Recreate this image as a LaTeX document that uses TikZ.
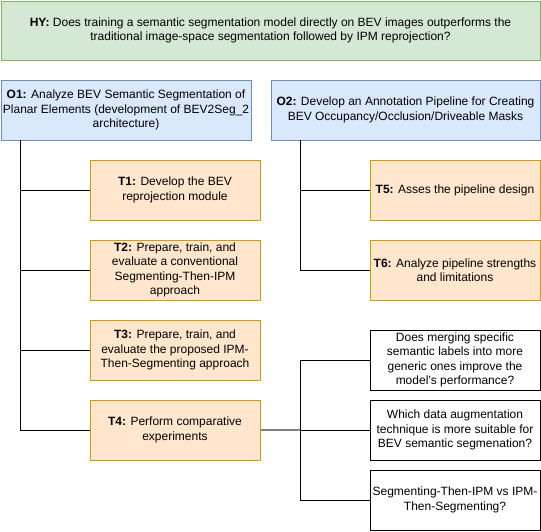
\documentclass[tikz,border=0pt]{standalone}
\usepackage{fontspec}
\setmainfont{Liberation Sans}
\usepackage{tikz}
\usetikzlibrary{positioning}
\definecolor{hyfill}{HTML}{D5E8D4}
\definecolor{hyline}{HTML}{82B366}
\definecolor{objfill}{HTML}{DAE8FC}
\definecolor{objline}{HTML}{6C8EBF}
\definecolor{taskfill}{HTML}{FFE6CC}
\definecolor{taskline}{HTML}{D79B00}
\tikzstyle{HYbox}   = [draw=hyline, fill=hyfill, line width=1pt, minimum width=539pt, minimum height=59pt, align=center]
\tikzstyle{OBJbox}  = [draw=objline, fill=objfill, line width=1pt, minimum height=60pt, align=center]
\tikzstyle{TASKbox} = [draw=taskline, fill=taskfill, line width=1pt, minimum width=170pt, minimum height=60pt, align=center]
\tikzstyle{Qbox}    = [draw, fill=white, line width=1pt, minimum width=170pt, minimum height=60pt, align=center]
\tikzset{
	every node/.style={font=\fontsize{12}{14.4}\selectfont, inner sep=0pt},
	tree/.style={line width=1pt},
}

\begin{document}
\begin{tikzpicture}[x=1pt, y=-1pt]
        \useasboundingbox (0,0) rectangle (541,531);

        \node[HYbox] (HY) at (270.5,30.5) {\textbf{HY:} Does training a semantic segmentation model directly on BEV images outperforms the\\traditional image-space segmentation followed by IPM reprojection?};

        \node[OBJbox, minimum width=250pt] (O1) at (126,110) {\textbf{O1:} Analyze BEV Semantic Segmentation of\\Planar Elements (development of BEV2Seg\_2\\architecture)};
        \node[OBJbox, minimum width=269pt] (O2) at (405.5,110) {\textbf{O2:} Develop an Annotation Pipeline for Creating\\BEV Occupancy/Occlusion/Driveable Masks};

        \node[TASKbox] (T1) at (175,190) {\textbf{T1:} Develop the BEV\\reprojection module};
        \node[TASKbox] (T2) at (175,270) {\textbf{T2:} Prepare, train, and\\evaluate a conventional\\Segmenting-Then-IPM\\approach};
        \node[TASKbox] (T3) at (175,350) {\textbf{T3:} Prepare, train, and\\evaluate the proposed IPM-\\Then-Segmenting approach};
        \node[TASKbox] (T4) at (175,430) {\textbf{T4:} Perform comparative\\experiments};

        \node[TASKbox] (T5) at (455,190) {\textbf{T5:} Asses the pipeline design};
        \node[TASKbox] (T6) at (455,270) {\textbf{T6:} Analyze pipeline strengths\\and limitations};

        \node[Qbox] (Q1) at (455,360) {Does merging specific\\semantic labels into more\\generic ones improve the\\model's performance?};
        \node[Qbox] (Q2) at (455,430) {Which data augmentation\\technique is more suitable for\\BEV semantic segmenation?};
        \node[Qbox] (Q3) at (455,500) {Segmenting-Then-IPM vs IPM-\\Then-Segmenting?};

        % trunks
        \coordinate (O1b) at (20,140);
        \coordinate (O2b) at (300,140);
        \coordinate (T4b) at (300,430);

        \draw[tree] (O1b) |- (T1.west);
        \draw[tree] (O1b) |- (T2.west);
        \draw[tree] (O1b) |- (T3.west);
        \draw[tree] (O1b) |- (T4.west);

        \draw[tree] (O2b) |- (T5.west);
        \draw[tree] (O2b) |- (T6.west);

        \draw[tree, gray, line width=1.5pt] (T4.east) -- (T4b);
        \draw[tree] (T4b) |- (Q1.west);
        \draw[tree] (T4b) -- (Q2.west);
        \draw[tree] (T4b) |- (Q3.west);
    \end{tikzpicture}
\end{document}
